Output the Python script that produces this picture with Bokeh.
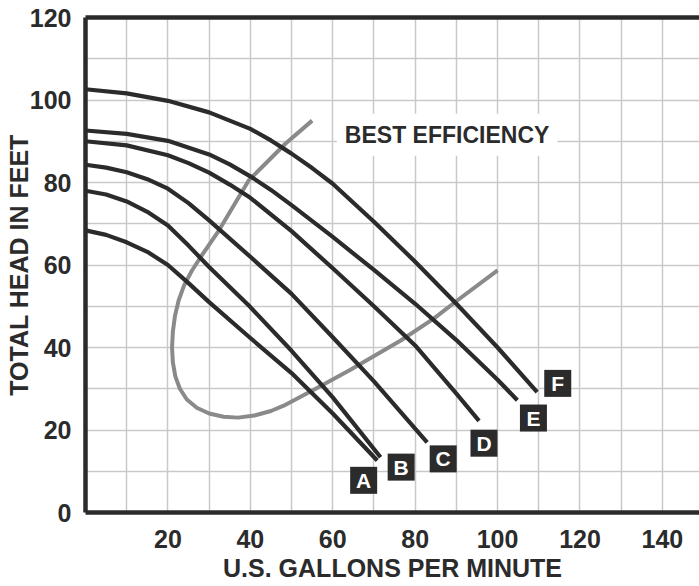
from bokeh.plotting import figure
from bokeh.models import Range1d, FixedTicker, LinearAxis, Label
from bokeh.embed import file_html
from bokeh.resources import INLINE
from bokeh.core.properties import value

# ---- data ----
x_ticks = [20, 40, 60, 80, 100, 120, 140]
y_ticks = [0, 20, 40, 60, 80, 100, 120]

gpm_F = [0, 10, 20, 30, 40, 45, 50, 55, 60, 70, 80, 90, 100, 109.6]
head_F = [102.6, 101.6, 99.8, 97.0, 93.0, 90.2, 87.0, 83.5, 79.7, 70.5, 60.8, 50.6, 40.0, 29.2]

gpm_E = [0, 10, 20, 30, 35, 40, 45, 50, 60, 70, 80, 90, 100, 104.8]
head_E = [92.6, 91.8, 90.1, 86.8, 84.4, 81.5, 78.2, 74.5, 66.8, 58.8, 50.6, 41.8, 32.2, 27.2]

gpm_D = [0, 10, 20, 25, 30, 35, 40, 50, 60, 70, 80, 90, 95.5]
head_D = [90.0, 89.0, 86.6, 84.7, 82.4, 79.5, 76.3, 68.2, 59.2, 50.0, 40.5, 28.8, 22.2]

gpm_C = [0, 5, 10, 15, 20, 25, 30, 40, 50, 60, 70, 82.9]
head_C = [84.3, 83.6, 82.5, 80.8, 78.5, 75.0, 70.8, 62.0, 53.0, 42.5, 31.8, 17.0]

gpm_B = [0, 5, 10, 15, 20, 25, 30, 40, 50, 60, 71.6]
head_B = [78.0, 77.1, 75.4, 72.9, 69.6, 64.7, 59.5, 49.8, 39.2, 27.9, 13.4]

gpm_A = [0, 5, 10, 15, 20, 25, 30, 40, 50, 60, 70.8]
head_A = [68.4, 67.3, 65.5, 63.2, 60.0, 55.6, 51.0, 42.3, 33.8, 24.0, 12.6]

best_gpm = [55, 48.5, 39.6, 32.4, 28.0, 25.8, 23.9, 22.6, 21.7, 21.2, 21.0, 21.2, 21.8, 22.9,
            24.6, 27.0, 30.0, 33.5, 37.0, 41.0, 45.0, 48.1, 56.2, 64.3, 76.5, 84.5, 90.2, 100]
best_head = [95, 89.4, 80.5, 68.4, 62.0, 58.6, 55.0, 51.4, 47.6, 43.8, 40.0, 36.4, 33.0, 30.0,
             27.4, 25.4, 24.0, 23.2, 23.0, 23.5, 24.6, 25.9, 30.2, 34.6, 41.7, 47.0, 51.4, 58.7]

pump_labels = ["A", "B", "C", "D", "E", "F"]
label_gpm = [67.5, 76.6, 86.8, 96.7, 108.7, 114.6]
label_head = [7.8, 11.0, 13.0, 16.8, 22.9, 31.3]

curves = [(gpm_A, head_A), (gpm_B, head_B), (gpm_C, head_C),
          (gpm_D, head_D), (gpm_E, head_E), (gpm_F, head_F)]

# ---- styling ----
DARK = "#2b2b2b"
FONT = "Liberation Sans"

p = figure(width=699, height=586, x_range=Range1d(0, 149), y_range=Range1d(0, 120),
           output_backend="svg", toolbar_location=None,
           min_border_left=85, min_border_right=0, min_border_top=17, min_border_bottom=74)
p.outline_line_color = None
p.background_fill_color = "white"
p.border_fill_color = "white"

p.xaxis.ticker = FixedTicker(ticks=x_ticks)
p.yaxis.ticker = FixedTicker(ticks=y_ticks)
p.xgrid.ticker = FixedTicker(ticks=list(range(10, 150, 10)))
p.ygrid.ticker = FixedTicker(ticks=list(range(10, 120, 10)))
for g in (p.xgrid, p.ygrid):
    g.grid_line_color = "#c9c9c9"
    g.grid_line_width = 1.5

for ax in (p.xaxis, p.yaxis):
    ax.axis_line_width = 4.5
    ax.axis_line_color = DARK
    ax.major_tick_line_color = None
    ax.minor_tick_line_color = None
    ax.major_label_text_font = FONT
    ax.major_label_text_font_size = "25px"
    ax.major_label_text_font_style = "bold"
    ax.major_label_text_color = DARK
    ax.axis_label_text_font = FONT
    ax.axis_label_text_font_size = "25px"
    ax.axis_label_text_font_style = "bold"
    ax.axis_label_text_color = DARK

p.xaxis.axis_label = "U.S. GALLONS PER MINUTE"
p.yaxis.axis_label = "TOTAL HEAD IN FEET"
p.xaxis.major_label_standoff = 11
p.xaxis.axis_label_standoff = 3
p.yaxis.major_label_standoff = 8
p.yaxis.axis_label_standoff = -6

top = LinearAxis(ticker=FixedTicker(ticks=[]), major_label_text_font_size="0px",
                 major_tick_line_color=None, minor_tick_line_color=None,
                 axis_line_width=4.5, axis_line_color=DARK)
p.add_layout(top, "above")

# best-efficiency curve
p.line(best_gpm, best_head, line_color="#8a8a8a", line_width=4, line_join="round")

# pump curves
for gx, hy in curves:
    p.line(gx, hy, line_color=DARK, line_width=4.2, line_join="round")

# label boxes
p.scatter(label_gpm, label_head, marker="square", size=27, fill_color=DARK, line_color=None)
p.text(label_gpm, label_head, text=pump_labels, text_color="white", text_font=value(FONT),
       text_font_style="bold", text_font_size="21px", text_align="center", text_baseline="middle")

lbl = Label(x=61, y=91.6, text="BEST EFFICIENCY", text_font=FONT, text_font_style="bold",
            text_font_size="23px", text_color=DARK, text_baseline="middle", text_align="left",
            background_fill_color="white", padding=8)
p.add_layout(lbl)

open("out.html", "w").write(file_html(p, INLINE))
